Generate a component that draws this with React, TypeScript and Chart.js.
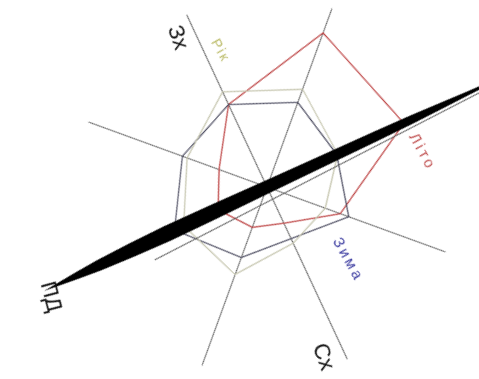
import React, { useEffect, useRef } from "react";
import { Chart, registerables } from "chart.js";

Chart.register(...registerables);

// Wind directions, clockwise from north
const directions = ["Пн", "ПнСх", "Сх", "ПдСх", "ПД", "ПдЗх", "Зх", "ПнЗх"];
// Direction names actually written on the figure
const shownDirections = ["Зх", "Сх", "ПД"];

// Series values (same order as directions)
const rikValues = [78, 62, 62, 93, 92, 85, 105, 104];
const litoValues = [151, 78, 40, 43, 54, 51, 91, 164];
const zymaValues = [77, 87, 57, 75, 102, 90, 91, 90];

const seriesNames = ["Рік", "Літо", "Зима"];

// Scale maximum (axis length)
const axisMax = 190;

// Black north–south needle: signed distance along the N–S axis (+ north) and full width in px
const needleDistances = [-246, -230, -210, -185, -150, -110, -60, 0, 60, 120, 160, 195, 220, 245, 275];
const needleWidths = [0, 3, 7, 11, 14, 16, 15, 13, 11.5, 10, 8.5, 6, 4, 2.5, 1.5];

const CX = 267;
const CY = 187;
const SIZE = 600;
const CHART_START = 20; // rotation done by the chart itself
const CSS_ROT = 45; // remaining rotation of the whole drawing
const RADIUS = 190;

const COLORS = {
  rik: "#c8c8b2",
  lito: "#c04c4c",
  zyma: "#4e4e62",
  axis: "#5c5c5c",
};

const overlayPlugin = {
  id: "overlay",
  afterDatasetsDraw(chart: any) {
    const s = chart.scales.r;
    const ctx = chart.ctx as CanvasRenderingContext2D;
    const iN = 0;
    const iS = directions.indexOf("ПД");
    const deg = Math.PI / 180;

    const c0 = s.getPointPosition(iN, 0);
    const c1 = s.getPointPosition(iN, 1);
    const ux = c1.x - c0.x;
    const uy = c1.y - c0.y;
    const px = -uy;
    const py = ux;

    const centre = (d: number) =>
      d >= 0
        ? s.getPointPosition(iN, s.getDistanceFromCenterForValue(d))
        : s.getPointPosition(iS, s.getDistanceFromCenterForValue(-d));

    ctx.save();
    // thin line beside the needle
    const a = s.getPointPosition(iS, s.getDistanceFromCenterForValue(134), -8 * deg);
    const b = s.getPointPosition(iN, s.getDistanceFromCenterForValue(245), 0.9 * deg);
    ctx.strokeStyle = "#555";
    ctx.lineWidth = 1;
    ctx.beginPath();
    ctx.moveTo(a.x, a.y);
    ctx.lineTo(b.x, b.y);
    ctx.stroke();

    // needle
    const leftPts: { x: number; y: number }[] = [];
    const rightPts: { x: number; y: number }[] = [];
    needleDistances.forEach((d, i) => {
      const c = centre(d);
      const w = needleWidths[i] / 2;
      leftPts.push({ x: c.x + px * w, y: c.y + py * w });
      rightPts.push({ x: c.x - px * w, y: c.y - py * w });
    });
    ctx.fillStyle = "#000";
    ctx.beginPath();
    leftPts.forEach((p, i) => (i ? ctx.lineTo(p.x, p.y) : ctx.moveTo(p.x, p.y)));
    for (let i = rightPts.length - 1; i >= 0; i--) ctx.lineTo(rightPts[i].x, rightPts[i].y);
    ctx.closePath();
    ctx.fill();

    // labels
    const font = '"Liberation Sans", Arial, sans-serif';
    const labels = [
      { text: shownDirections[0], idx: 6, dist: 174, off: -6, rot: 6, size: 22, color: "#111", sp: 0 },
      { text: shownDirections[1], idx: 2, dist: 179, off: 6.8, rot: 5, size: 22, color: "#111", sp: 0 },
      { text: shownDirections[2], idx: 4, dist: 243, off: -1.9, rot: 10, size: 22, color: "#111", sp: 0 },
      { text: seriesNames[0], idx: 6, dist: 144, off: 6, rot: -4, size: 14, color: "#bcbc6a", sp: 2 },
      { text: seriesNames[1], idx: 0, dist: 159, off: 12.3, rot: -4, size: 15, color: "#c05050", sp: 3 },
      { text: seriesNames[2], idx: 2, dist: 109, off: -23, rot: -4, size: 15, color: "#3c3ca0", sp: 3 },
    ];
    ctx.textAlign = "center";
    ctx.textBaseline = "middle";
    labels.forEach((l) => {
      const p = s.getPointPosition(l.idx, s.getDistanceFromCenterForValue(l.dist), l.off * deg);
      ctx.save();
      ctx.translate(p.x, p.y);
      ctx.rotate((l.rot + CHART_START) * deg);
      ctx.font = `${l.size}px ${font}`;
      (ctx as any).letterSpacing = `${l.sp}px`;
      ctx.fillStyle = l.color;
      ctx.fillText(l.text, 0, 0);
      ctx.restore();
    });
    ctx.restore();
  },
};

export default function App() {
  const ref = useRef<HTMLCanvasElement | null>(null);

  useEffect(() => {
    if (!ref.current) return;
    const pad = (SIZE - 2 * RADIUS) / 2;
    const chart = new Chart(ref.current, {
      type: "radar",
      data: {
        labels: directions,
        datasets: [
          {
            label: seriesNames[0],
            data: rikValues,
            borderColor: COLORS.rik,
            backgroundColor: "transparent",
            borderWidth: 1.3,
            pointRadius: 0,
            fill: false,
          },
          {
            label: seriesNames[2],
            data: zymaValues,
            borderColor: COLORS.zyma,
            backgroundColor: "transparent",
            borderWidth: 1.2,
            pointRadius: 0,
            fill: false,
            segment: {
              borderColor: (c: any) => (c.p0DataIndex === 6 ? "#111" : undefined),
              borderDash: (c: any) => (c.p0DataIndex === 6 ? [2, 1.5] : undefined),
            },
          },
          {
            label: seriesNames[1],
            data: litoValues,
            borderColor: COLORS.lito,
            backgroundColor: "transparent",
            borderWidth: 1.3,
            pointRadius: 0,
            fill: false,
          },
        ],
      },
      options: {
        responsive: false,
        maintainAspectRatio: false,
        devicePixelRatio: 1,
        animation: false,
        layout: { padding: pad },
        plugins: { legend: { display: false }, tooltip: { enabled: false } },
        scales: {
          r: {
            min: 0,
            max: axisMax,
            startAngle: CHART_START,
            ticks: { display: false },
            grid: { display: false },
            pointLabels: { display: false },
            angleLines: { display: true, color: COLORS.axis, lineWidth: 1 },
          },
        },
      },
      plugins: [overlayPlugin],
    } as any);
    return () => chart.destroy();
  }, []);

  return (
    <div
      style={{
        position: "absolute",
        left: 0,
        top: 0,
        width: 479,
        height: 379,
        overflow: "hidden",
        background: "#fff",
      }}
    >
      <div
        style={{
          position: "absolute",
          left: CX - SIZE / 2,
          top: CY - SIZE / 2,
          width: SIZE,
          height: SIZE,
          transform: `rotate(${CSS_ROT}deg)`,
          transformOrigin: "50% 50%",
        }}
      >
        <canvas ref={ref} width={SIZE} height={SIZE} style={{ width: SIZE, height: SIZE, display: "block" }} />
      </div>
    </div>
  );
}
